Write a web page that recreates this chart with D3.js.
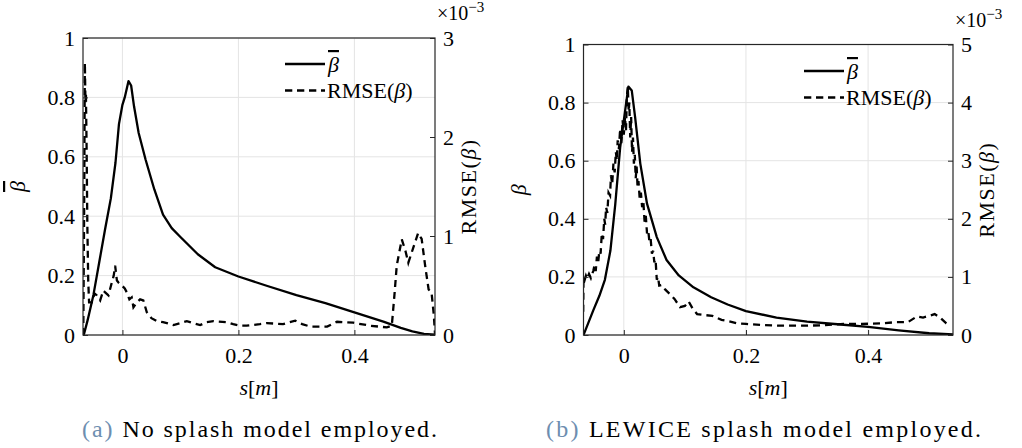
<!DOCTYPE html>
<html>
<head>
<meta charset="utf-8">
<script src="https://cdn.jsdelivr.net/npm/d3@7"></script>
<style>
  html, body { margin: 0; padding: 0; background: #fff; }
</style>
</head>
<body>
<div id="chart"></div>
<script>
// ---- data: (a) no splash model ----
const sBetaA = [-0.068, -0.066, -0.06, -0.05, -0.04, -0.03, -0.02, -0.012, -0.006, 0, 0.004, 0.0105, 0.015, 0.02, 0.028, 0.04, 0.055, 0.07, 0.085, 0.1, 0.13, 0.16, 0.2, 0.25, 0.3, 0.35, 0.4, 0.45, 0.48, 0.5, 0.52, 0.539];
const betaA  = [0, 0.005, 0.05, 0.135, 0.245, 0.355, 0.46, 0.58, 0.71, 0.775, 0.8, 0.855, 0.84, 0.77, 0.68, 0.59, 0.49, 0.405, 0.36, 0.33, 0.272, 0.228, 0.197, 0.165, 0.134, 0.107, 0.076, 0.045, 0.024, 0.012, 0.004, 0.001];

// RMSE values are in units of 1e-3 (axis shows x10^-3)
const sRmseA = [-0.0675, -0.066, -0.0648, -0.0638, -0.063, -0.0618, -0.0605, -0.059, -0.0575, -0.0528, -0.048, -0.0441, -0.0384, -0.033, -0.0298, -0.0241, -0.0183, -0.015, -0.0126, -0.0095, -0.0069, -0.001, 0.004, 0.0076, 0.012, 0.016, 0.019, 0.025, 0.0305, 0.036, 0.042, 0.05, 0.0593, 0.07, 0.0766, 0.088, 0.1, 0.111, 0.122, 0.134, 0.145, 0.157, 0.18, 0.191, 0.203, 0.214, 0.237, 0.249, 0.277, 0.298, 0.31, 0.324, 0.353, 0.37, 0.398, 0.427, 0.456, 0.4645, 0.469, 0.473, 0.4817, 0.488, 0.493, 0.502, 0.51, 0.516, 0.522, 0.528, 0.533, 0.537, 0.539];
const rmseA  = [0, 1.3, 2.75, 2.35, 2.45, 1.9, 1.1, 0.55, 0.33, 0.33, 0.42, 0.4, 0.35, 0.45, 0.43, 0.4, 0.53, 0.6, 0.7, 0.55, 0.53, 0.5, 0.47, 0.43, 0.36, 0.38, 0.28, 0.33, 0.36, 0.35, 0.23, 0.17, 0.14, 0.13, 0.12, 0.1, 0.12, 0.14, 0.12, 0.1, 0.13, 0.14, 0.13, 0.11, 0.094, 0.094, 0.11, 0.12, 0.11, 0.145, 0.11, 0.085, 0.085, 0.134, 0.124, 0.094, 0.077, 0.094, 0.4, 0.7, 0.966, 0.85, 0.73, 0.89, 1.03, 0.97, 0.7, 0.46, 0.43, 0.2, 0.01];

// ---- data: (b) LEWICE splash model ----
const sBetaB = [-0.066, -0.05, -0.04, -0.031, -0.022, -0.014, -0.006, 0.002, 0.0075, 0.013, 0.0185, 0.027, 0.038, 0.054, 0.07, 0.09, 0.114, 0.143, 0.17, 0.2, 0.25, 0.3, 0.35, 0.4, 0.45, 0.5, 0.539];
const betaB  = [0, 0.085, 0.135, 0.19, 0.29, 0.45, 0.645, 0.77, 0.855, 0.842, 0.75, 0.59, 0.452, 0.337, 0.258, 0.205, 0.164, 0.13, 0.105, 0.082, 0.06, 0.046, 0.037, 0.028, 0.016, 0.006, 0.002];

const sRmseB = [-0.0665, -0.066, -0.064, -0.062, -0.06, -0.057, -0.054, -0.052, -0.05, -0.048, -0.046, -0.044, -0.042, -0.04, -0.038, -0.036, -0.034, -0.032, -0.0305, -0.029, -0.027, -0.025, -0.0225, -0.021, -0.019, -0.017, -0.015, -0.013, -0.0115, -0.01, -0.008, -0.006, -0.004, -0.002, 0, 0.002, 0.0035, 0.005, 0.0065, 0.008, 0.009, 0.0105, 0.012, 0.0135, 0.015, 0.0165, 0.018, 0.0195, 0.021, 0.0225, 0.024, 0.026, 0.028, 0.03, 0.032, 0.034, 0.036, 0.038, 0.04, 0.042, 0.044, 0.046, 0.048, 0.05, 0.052, 0.054, 0.056, 0.058, 0.062, 0.068, 0.076, 0.083, 0.092, 0.1, 0.106, 0.113, 0.12, 0.135, 0.145, 0.16, 0.17, 0.185, 0.2, 0.23, 0.26, 0.3, 0.33, 0.36, 0.39, 0.42, 0.445, 0.465, 0.48, 0.49, 0.5, 0.509, 0.518, 0.528, 0.535];
const rmseB  = [0.4, 1.0, 0.95, 1.02, 0.97, 1.05, 0.98, 1.05, 1.1, 1.2, 1.1, 1.35, 1.25, 1.45, 1.4, 1.75, 1.65, 2.0, 1.9, 2.2, 2.1, 2.45, 2.4, 2.75, 2.6, 2.95, 2.8, 3.15, 3.0, 3.35, 3.2, 3.55, 3.3, 3.7, 3.45, 3.75, 3.5, 4.1, 4.28, 3.85, 4.0, 3.4, 3.75, 3.15, 3.4, 2.95, 3.1, 2.7, 2.9, 2.55, 2.65, 2.35, 2.45, 2.2, 2.3, 1.95, 2.05, 1.75, 1.8, 1.6, 1.65, 1.4, 1.45, 1.25, 1.3, 0.95, 1.0, 0.85, 0.86, 0.78, 0.7, 0.62, 0.48, 0.5, 0.58, 0.45, 0.36, 0.34, 0.33, 0.26, 0.24, 0.2, 0.19, 0.17, 0.16, 0.16, 0.17, 0.19, 0.19, 0.2, 0.22, 0.22, 0.32, 0.3, 0.33, 0.36, 0.3, 0.2, 0.16];

// ---- ticks ----
const xTicks = [0, 0.2, 0.4];
const yTicksLeft = [0, 0.2, 0.4, 0.6, 0.8, 1];
const rTicksA = [0, 1, 2, 3];
const rTicksB = [0, 1, 2, 3, 4, 5];

const W = 1022, H = 448;
const FONT = '"Liberation Serif", "DejaVu Serif", serif';
const axisColor = '#262626';
const gridColor = '#e4e4e4';
const fontSize = 22;

const svg = d3.select('#chart').append('svg')
  .attr('width', W)
  .attr('height', H)
  .attr('font-family', FONT)
  .style('font-family', FONT);

// 一个面板 = 双 y 轴 (左 beta, 右 RMSE)
function drawPanel(p) {
  const x = d3.scaleLinear().domain(p.xDomain).range([p.left, p.right]);
  const yL = d3.scaleLinear().domain([0, 1]).range([p.bottom, p.top]);
  const yR = d3.scaleLinear().domain([0, d3.max(p.rTicks)]).range([p.bottom, p.top]);

  const g = svg.append('g');

  // grid lines (follow left axis)
  g.append('g').selectAll('line').data(xTicks).join('line')
    .attr('x1', d => x(d)).attr('x2', d => x(d))
    .attr('y1', p.top).attr('y2', p.bottom)
    .attr('stroke', gridColor).attr('stroke-width', 1);
  g.append('g').selectAll('line').data(yTicksLeft).join('line')
    .attr('x1', p.left).attr('x2', p.right)
    .attr('y1', d => yL(d)).attr('y2', d => yL(d))
    .attr('stroke', gridColor).attr('stroke-width', 1);

  // clip
  const clipId = 'clip-' + p.id;
  svg.append('clipPath').attr('id', clipId)
    .append('rect')
    .attr('x', p.left).attr('y', p.top - 2)
    .attr('width', p.right - p.left).attr('height', p.bottom - p.top + 2);

  const plot = g.append('g').attr('clip-path', `url(#${clipId})`);

  const betaPts = p.sBeta.map((s, i) => [s, p.beta[i]]);
  const rmsePts = p.sRmse.map((s, i) => [s, p.rmse[i]]);

  plot.append('path')
    .datum(betaPts)
    .attr('fill', 'none')
    .attr('stroke', '#000')
    .attr('stroke-width', 2.3)
    .attr('stroke-linejoin', 'round')
    .attr('d', d3.line().x(d => x(d[0])).y(d => yL(d[1])));

  plot.append('path')
    .datum(rmsePts)
    .attr('fill', 'none')
    .attr('stroke', '#000')
    .attr('stroke-width', 2.3)
    .attr('stroke-dasharray', '7,5')
    .attr('d', d3.line().x(d => x(d[0])).y(d => yR(d[1])));

  // axes
  const fmt = d3.format('~g');
  const styleAxis = a => {
    a.attr('font-family', FONT).attr('font-size', fontSize);
    a.select('.domain').remove();
    a.selectAll('.tick line').attr('stroke', axisColor);
    a.selectAll('.tick text').attr('fill', '#000');
  };

  g.append('g')
    .attr('transform', `translate(0,${p.bottom})`)
    .call(d3.axisBottom(x).tickValues(xTicks).tickSize(-5).tickPadding(12).tickFormat(fmt))
    .call(styleAxis);

  g.append('g')
    .attr('transform', `translate(${p.left},0)`)
    .call(d3.axisLeft(yL).tickValues(yTicksLeft).tickSize(-5).tickPadding(8).tickFormat(fmt))
    .call(styleAxis);

  g.append('g')
    .attr('transform', `translate(${p.right},0)`)
    .call(d3.axisRight(yR).tickValues(p.rTicks).tickSize(-5).tickPadding(8).tickFormat(fmt))
    .call(styleAxis);

  // box
  g.append('rect')
    .attr('x', p.left).attr('y', p.top)
    .attr('width', p.right - p.left).attr('height', p.bottom - p.top)
    .attr('fill', 'none')
    .attr('stroke', axisColor)
    .attr('stroke-width', 1.2);

  // x10^-3
  const ex = g.append('text')
    .attr('x', p.right + 2)
    .attr('y', p.top - 18)
    .attr('font-size', 20);
  ex.append('tspan').text('×10');
  ex.append('tspan').attr('font-size', 15).attr('dy', -8).text('−3');

  // x label: s[m]
  const xl = g.append('text')
    .attr('x', (p.left + p.right) / 2)
    .attr('y', 395)
    .attr('text-anchor', 'middle')
    .attr('font-size', fontSize);
  xl.append('tspan').attr('font-style', 'italic').text('s');
  xl.append('tspan').text('[');
  xl.append('tspan').attr('font-style', 'italic').text('m');
  xl.append('tspan').text(']');

  // left y label
  const ylx = p.left - 58, yly = (p.top + p.bottom) / 2;
  g.append('text')
    .attr('transform', `translate(${ylx},${yly}) rotate(-90)`)
    .attr('text-anchor', 'middle')
    .attr('font-size', fontSize)
    .attr('font-style', 'italic')
    .style('text-decoration', p.barLabel ? 'overline' : null)
    .text('β');

  // right y label
  const yr = g.append('text')
    .attr('transform', `translate(${p.right + 41},${yly}) rotate(-90)`)
    .attr('text-anchor', 'middle')
    .attr('font-size', fontSize)
    .attr('letter-spacing', 1.5);
  yr.append('tspan').text('RMSE(');
  yr.append('tspan').attr('font-style', 'italic').text('β');
  yr.append('tspan').text(')');

  // legend
  const lg = g.append('g');
  lg.append('line')
    .attr('x1', p.legX).attr('x2', p.legX + 40)
    .attr('y1', p.legY).attr('y2', p.legY)
    .attr('stroke', '#000').attr('stroke-width', 2.3);
  lg.append('line')
    .attr('x1', p.legX).attr('x2', p.legX + 40)
    .attr('y1', p.legY + 26.5).attr('y2', p.legY + 26.5)
    .attr('stroke', '#000').attr('stroke-width', 2.3)
    .attr('stroke-dasharray', '7.3,4.7');
  lg.append('text')
    .attr('x', p.legX + 43).attr('y', p.legY + 8)
    .attr('font-size', fontSize)
    .attr('font-style', 'italic')
    .style('text-decoration', 'overline')
    .text('β');
  const lt = lg.append('text')
    .attr('x', p.legX + 42).attr('y', p.legY + 33.5)
    .attr('font-size', fontSize);
  lt.append('tspan').text('RMSE(');
  lt.append('tspan').attr('font-style', 'italic').text('β');
  lt.append('tspan').text(')');

  // caption (stretched to the reference width)
  const cap = g.append('text')
    .attr('x', p.capX - p.capW / 2)
    .attr('y', 437)
    .attr('font-size', 24)
    .attr('textLength', p.capW)
    .attr('lengthAdjust', 'spacing');
  cap.append('tspan').attr('fill', '#6d8eb0').text(p.capTag);
  cap.append('tspan').text(' ' + p.capText);
}

drawPanel({
  id: 'a',
  left: 83, right: 435, top: 38, bottom: 335,
  xDomain: [-0.068, 0.539],
  rTicks: rTicksA,
  sBeta: sBetaA, beta: betaA, sRmse: sRmseA, rmse: rmseA,
  barLabel: true,
  legX: 285, legY: 64,
  capX: 259.5, capW: 355, capTag: '(a)', capText: 'No splash model employed.'
});

drawPanel({
  id: 'b',
  left: 583.5, right: 953, top: 44.5, bottom: 335,
  xDomain: [-0.066, 0.539],
  rTicks: rTicksB,
  sBeta: sBetaB, beta: betaB, sRmse: sRmseB, rmse: rmseB,
  barLabel: false,
  legX: 804, legY: 71,
  capX: 763.5, capW: 435, capTag: '(b)', capText: 'LEWICE splash model employed.'
});

// make sure every text uses the serif family
svg.selectAll('text').style('font-family', FONT);
</script>
</body>
</html>
